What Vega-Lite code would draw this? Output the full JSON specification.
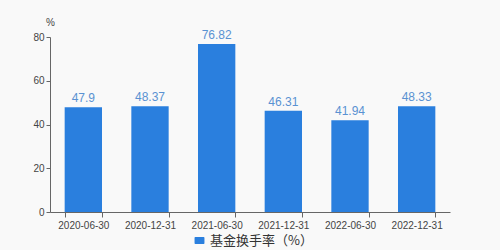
{
  "$schema": "https://vega.github.io/schema/vega-lite/v6.json",
  "width": 400,
  "height": 175,
  "autosize": "none",
  "padding": {"left": 50, "top": 37, "right": 50, "bottom": 38},
  "background": "#f9f9f9",
  "config": {
    "view": {"stroke": null},
    "font": "Noto Sans CJK SC"
  },
  "data": {
    "values": [
      {"date": "2020-06-30", "value": 47.9, "label": "47.9", "series": "基金换手率（%）"},
      {"date": "2020-12-31", "value": 48.37, "label": "48.37", "series": "基金换手率（%）"},
      {"date": "2021-06-30", "value": 76.82, "label": "76.82", "series": "基金换手率（%）"},
      {"date": "2021-12-31", "value": 46.31, "label": "46.31", "series": "基金换手率（%）"},
      {"date": "2022-06-30", "value": 41.94, "label": "41.94", "series": "基金换手率（%）"},
      {"date": "2022-12-31", "value": 48.33, "label": "48.33", "series": "基金换手率（%）"}
    ]
  },
  "encoding": {
    "x": {
      "field": "date",
      "type": "nominal",
      "sort": null,
      "scale": {"paddingInner": 0.44, "paddingOuter": 0.22},
      "axis": {
        "title": null,
        "labelAngle": 0,
        "tickBand": "extent",
        "domainColor": "#666666",
        "tickColor": "#666666",
        "tickSize": 5,
        "labelColor": "#444444",
        "labelFontSize": 10,
        "labelFont": "Liberation Sans",
        "labelPadding": 3
      }
    },
    "y": {
      "field": "value",
      "type": "quantitative",
      "scale": {"domain": [0, 80]},
      "axis": {
        "title": "%",
        "titleAngle": 0,
        "titleAlign": "center",
        "titleBaseline": "bottom",
        "titleX": 0,
        "titleY": -10,
        "titleFontWeight": "normal",
        "titleFontSize": 10,
        "titleColor": "#444444",
        "titleFont": "Liberation Sans",
        "values": [0, 20, 40, 60, 80],
        "grid": false,
        "domainColor": "#666666",
        "tickColor": "#666666",
        "tickSize": 4,
        "labelColor": "#444444",
        "labelFontSize": 10,
        "labelFont": "Liberation Sans",
        "labelPadding": 2
      }
    }
  },
  "layer": [
    {
      "mark": {"type": "bar", "color": "#2a7fde"},
      "encoding": {
        "color": {
          "field": "series",
          "type": "nominal",
          "scale": {"range": ["#2a7fde"]},
          "legend": {
            "title": null,
            "orient": "none",
            "legendX": 143,
            "legendY": 197,
            "symbolType": "M-1.4,-0.8 Q-1.4,-1 -1.2,-1 L1.2,-1 Q1.4,-1 1.4,-0.8 L1.4,0.8 Q1.4,1 1.2,1 L-1.2,1 Q-1.4,1 -1.4,0.8 Z",
            "symbolSize": 50,
            "symbolStrokeWidth": 0,
            "symbolOpacity": 1,
            "labelFontSize": 13,
            "labelColor": "#333333",
            "labelOffset": 4
          }
        }
      }
    },
    {
      "mark": {"type": "text", "dy": -2, "baseline": "bottom", "fontSize": 12, "color": "#5a92d2", "font": "Liberation Sans"},
      "encoding": {"text": {"field": "label"}}
    }
  ]
}
